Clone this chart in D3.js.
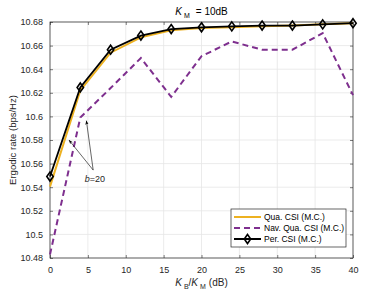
<!DOCTYPE html>
<html>
<head>
<meta charset="utf-8">
<script src="https://cdn.jsdelivr.net/npm/d3@7"></script>
<style>
  body { margin: 0; background: #fff; }
  svg text { font-family: "Liberation Sans", Arial, sans-serif; }
</style>
</head>
<body>
<div id="chart"></div>
<script>
// Data
var xVals = [0, 4, 8, 12, 16, 20, 24, 28, 32, 36, 40];
var quaCSI = [10.5405, 10.622, 10.654, 10.667, 10.673, 10.675, 10.6755, 10.6765, 10.677, 10.678, 10.679];
var navQuaCSI = [10.483, 10.599, 10.624, 10.6495, 10.6165, 10.651, 10.6635, 10.6565, 10.6565, 10.6705, 10.618];
var perCSI = [10.549, 10.6245, 10.6565, 10.6685, 10.674, 10.6755, 10.6763, 10.677, 10.677, 10.678, 10.679];
var xTicks = [0, 5, 10, 15, 20, 25, 30, 35, 40];
var yTicks = [10.48, 10.5, 10.52, 10.54, 10.56, 10.58, 10.6, 10.62, 10.64, 10.66, 10.68];
var legendNames = ["Qua. CSI (M.C.)", "Nav. Qua. CSI (M.C.)", "Per. CSI (M.C.)"];

// Setup
var W = 390, H = 293;
var m = {left: 50, right: 37, top: 22, bottom: 35};
var svg = d3.select("#chart").append("svg")
  .attr("width", W)
  .attr("height", H);

var x = d3.scaleLinear().domain([0, 40]).range([m.left, W - m.right]);
var y = d3.scaleLinear().domain([10.48, 10.68]).range([H - m.bottom, m.top]);

var axisCol = "#262626";

// grid
svg.append("g").selectAll("line").data(xTicks).enter().append("line")
  .attr("x1", d => x(d)).attr("x2", d => x(d))
  .attr("y1", y(10.48)).attr("y2", y(10.68))
  .attr("stroke", "#e6e6e6").attr("stroke-width", 0.8);
svg.append("g").selectAll("line").data(yTicks).enter().append("line")
  .attr("x1", x(0)).attr("x2", x(40))
  .attr("y1", d => y(d)).attr("y2", d => y(d))
  .attr("stroke", "#e6e6e6").attr("stroke-width", 0.8);

// axes
function styleAxis(g) {
  g.select(".domain").remove();
  g.selectAll("line").attr("stroke", axisCol).attr("stroke-width", 0.6);
  g.selectAll("text").attr("fill", axisCol).attr("font-size", "9px")
    .style("font-family", "Liberation Sans, Arial, sans-serif");
}
svg.append("g").attr("transform", "translate(0," + y(10.48) + ")")
  .call(d3.axisBottom(x).tickValues(xTicks).tickSizeInner(-3).tickPadding(9))
  .call(styleAxis);
svg.append("g").attr("transform", "translate(0," + y(10.68) + ")")
  .call(d3.axisTop(x).tickValues(xTicks).tickSizeInner(-3).tickFormat(""))
  .call(styleAxis);
svg.append("g").attr("transform", "translate(" + x(0) + ",0)")
  .call(d3.axisLeft(y).tickValues(yTicks).tickSizeInner(-3).tickPadding(7).tickFormat(d3.format("")))
  .call(styleAxis);
svg.append("g").attr("transform", "translate(" + x(40) + ",0)")
  .call(d3.axisRight(y).tickValues(yTicks).tickSizeInner(-3).tickFormat(""))
  .call(styleAxis);

svg.append("rect")
  .attr("x", x(0)).attr("y", y(10.68))
  .attr("width", x(40) - x(0)).attr("height", y(10.48) - y(10.68))
  .attr("fill", "none").attr("stroke", axisCol).attr("stroke-width", 0.7);

// lines
var line = d3.line().x((d, i) => x(xVals[i])).y(d => y(d));
svg.append("path").datum(navQuaCSI).attr("d", line)
  .attr("fill", "none").attr("stroke", "#7E2F8E").attr("stroke-width", 2)
  .attr("stroke-dasharray", "6,4");
svg.append("path").datum(quaCSI).attr("d", line)
  .attr("fill", "none").attr("stroke", "#EDB120").attr("stroke-width", 2);
svg.append("path").datum(perCSI).attr("d", line)
  .attr("fill", "none").attr("stroke", "#000").attr("stroke-width", 1.8);

var diamond = "M0,-4.5L3.2,0L0,4.5L-3.2,0Z";
svg.append("g").selectAll("path").data(perCSI).enter().append("path")
  .attr("d", diamond)
  .attr("transform", (d, i) => "translate(" + x(xVals[i]) + "," + y(d) + ")")
  .attr("fill", "none").attr("stroke", "#000").attr("stroke-width", 1.6);

// annotation
svg.append("defs").append("marker")
  .attr("id", "arr").attr("viewBox", "0 0 10 10").attr("refX", 10).attr("refY", 5)
  .attr("markerWidth", 7).attr("markerHeight", 7).attr("orient", "auto")
  .append("path").attr("d", "M0,1L10,5L0,9L3,5Z").attr("fill", "#000");
var ax = x(5.7), ay = y(10.5545);
svg.append("line").attr("x1", ax).attr("y1", ay).attr("x2", x(2.5)).attr("y2", y(10.58))
  .attr("stroke", "#000").attr("stroke-width", 0.6).attr("marker-end", "url(#arr)");
svg.append("line").attr("x1", ax).attr("y1", ay).attr("x2", x(4.8)).attr("y2", y(10.5965))
  .attr("stroke", "#000").attr("stroke-width", 0.6).attr("marker-end", "url(#arr)");
var bt = svg.append("text").attr("x", x(4.6)).attr("y", y(10.5445))
  .attr("font-size", "9px").attr("fill", "#262626");
bt.append("tspan").attr("font-style", "italic").text("b");
bt.append("tspan").text("=20");

// title
var t = svg.append("text").attr("x", (x(0) + x(40)) / 2).attr("y", 15)
  .attr("text-anchor", "middle").attr("font-size", "10px").attr("fill", "#000");
t.append("tspan").attr("font-style", "italic").text("K");
t.append("tspan").attr("font-size", "7px").attr("dx", 2).attr("dy", 2.5).text("M");
t.append("tspan").attr("dx", 6).attr("dy", -2.5).text("= 10dB");

// x label
var xl = svg.append("text").attr("x", (x(0) + x(40)) / 2).attr("y", 286)
  .attr("text-anchor", "middle").attr("font-size", "10px").attr("fill", "#262626");
xl.append("tspan").attr("font-style", "italic").text("K");
xl.append("tspan").attr("font-size", "7px").attr("dx", 2).attr("dy", 2.5).text("B");
xl.append("tspan").attr("dy", -2.5).text("/");
xl.append("tspan").attr("font-style", "italic").text("K");
xl.append("tspan").attr("font-size", "7px").attr("dx", 2).attr("dy", 2.5).text("M");
xl.append("tspan").attr("dx", 3).attr("dy", -2.5).text("(dB)");

// y label
svg.append("text").attr("transform", "translate(16," + ((y(10.48) + y(10.68)) / 2) + ") rotate(-90)")
  .attr("text-anchor", "middle").attr("font-size", "9.5px").attr("fill", "#262626")
  .text("Ergodic rate (bps/Hz)");

// legend
var lg = svg.append("g").attr("transform", "translate(231,209)");
lg.append("rect").attr("width", 115).attr("height", 38)
  .attr("fill", "#fff").attr("stroke", axisCol).attr("stroke-width", 0.7);
var lgColors = ["#EDB120", "#7E2F8E", "#000"];
var lgDash = [null, "6,4", null];
legendNames.forEach(function(name, i) {
  var ly = 8 + i * 11;
  lg.append("line").attr("x1", 3).attr("x2", 30).attr("y1", ly).attr("y2", ly)
    .attr("stroke", lgColors[i]).attr("stroke-width", 2)
    .attr("stroke-dasharray", lgDash[i]);
  if (i == 2) {
    lg.append("path").attr("d", diamond).attr("transform", "translate(16.5," + ly + ")")
      .attr("fill", "none").attr("stroke", "#000").attr("stroke-width", 1.6);
  }
  lg.append("text").attr("x", 33).attr("y", ly + 3).attr("font-size", "8.5px")
    .attr("fill", "#000").text(name);
});
</script>
</body>
</html>
